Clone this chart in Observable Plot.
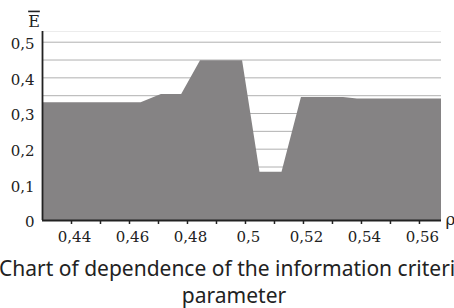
<!DOCTYPE html>
<html>
<head>
<meta charset="utf-8">
<script src="https://cdn.jsdelivr.net/npm/d3@7"></script>
<script src="https://cdn.jsdelivr.net/npm/@observablehq/plot@0.6"></script>
<style>
  html, body { margin: 0; padding: 0; background: #fff; overflow: hidden; width: 454px; height: 308px; }
  #wrap { position: relative; width: 454px; height: 308px; overflow: hidden; }
  #chart svg, #chart svg text { font-family: "DejaVu Serif", serif !important; }
  .cap { position: absolute; font-family: "Noto Sans", sans-serif; font-size: 21px; color: #222; white-space: nowrap; line-height: 29px; }
</style>
</head>
<body>
<div id="wrap">
  <div id="chart"></div>
  <div class="cap" id="cap1" style="left:-1px; top:254px;">Chart of dependence of the information criterion on the</div>
  <div class="cap" id="cap2" style="left:0; width:468px; text-align:center; top:281px;">parameter</div>
</div>
<script>
// Data
const rho = [0.43, 0.464, 0.471, 0.478, 0.4845, 0.499, 0.505, 0.5126, 0.5193, 0.5338, 0.5386, 0.5676];
const E   = [0.330, 0.330, 0.353, 0.353, 0.448, 0.448, 0.135, 0.135, 0.345, 0.345, 0.341, 0.341];
const xTicks = [0.44, 0.45, 0.46, 0.47, 0.48, 0.49, 0.50, 0.51, 0.52, 0.53, 0.54, 0.55, 0.56];
const xLabels = [0.44, 0.46, 0.48, 0.5, 0.52, 0.54, 0.56];
const yTicks = [0, 0.1, 0.2, 0.3, 0.4, 0.5];
const gridLines = [0.05, 0.1, 0.15, 0.2, 0.25, 0.3, 0.35, 0.4, 0.45, 0.5];

const data = rho.map((r, i) => ({rho: r, E: E[i]}));
const fmt = v => String(v).replace(".", ",");
const serif = "DejaVu Serif";

const chart = Plot.plot({
  width: 454,
  height: 250,
  marginLeft: 42,
  marginRight: 13,
  marginTop: 31,
  marginBottom: 30,
  style: {fontFamily: serif, fontSize: "15px", color: "#222", background: "transparent"},
  x: {domain: [0.43, 0.5676]},
  y: {domain: [0, 0.53]},
  marks: [
    Plot.ruleY([0.53], {stroke: "#ececec", strokeWidth: 1}),
    Plot.ruleY(gridLines, {stroke: "#b0b0b0", strokeWidth: 1}),
    Plot.areaY(data, {x: "rho", y: "E", fill: "#858384"}),
    Plot.axisX(xTicks, {tickSize: 4, text: null, stroke: "#222", strokeWidth: 1.5, label: null}),
    Plot.axisX(xLabels, {tickSize: 0, tickPadding: 11, tickFormat: fmt, dx: 3, label: null, fontSize: 15, fontFamily: serif}),
    Plot.axisY(yTicks, {tickSize: 0, tickPadding: 8, tickFormat: fmt, dy: 2, label: null, fontSize: 15, fontFamily: serif}),
    Plot.ruleY([0], {stroke: "#222", strokeWidth: 1.8}),
    Plot.ruleX([0.43], {stroke: "#222", strokeWidth: 1.8}),
    Plot.text(["E"], {text: d => d, frameAnchor: "top-left", dx: -8.5, dy: -10, textAnchor: "middle", lineAnchor: "middle", fontSize: 16, fontFamily: serif}),
    Plot.text(["ρ"], {text: d => d, frameAnchor: "bottom-right", dx: 4, dy: -1, textAnchor: "start", lineAnchor: "middle", fontSize: 17, fontFamily: serif})
  ]
});
d3.select(chart).selectAll("text").filter(function() { return this.textContent === "E"; })
  .style("text-decoration", "overline");
document.getElementById("chart").appendChild(chart);
</script>
</body>
</html>
